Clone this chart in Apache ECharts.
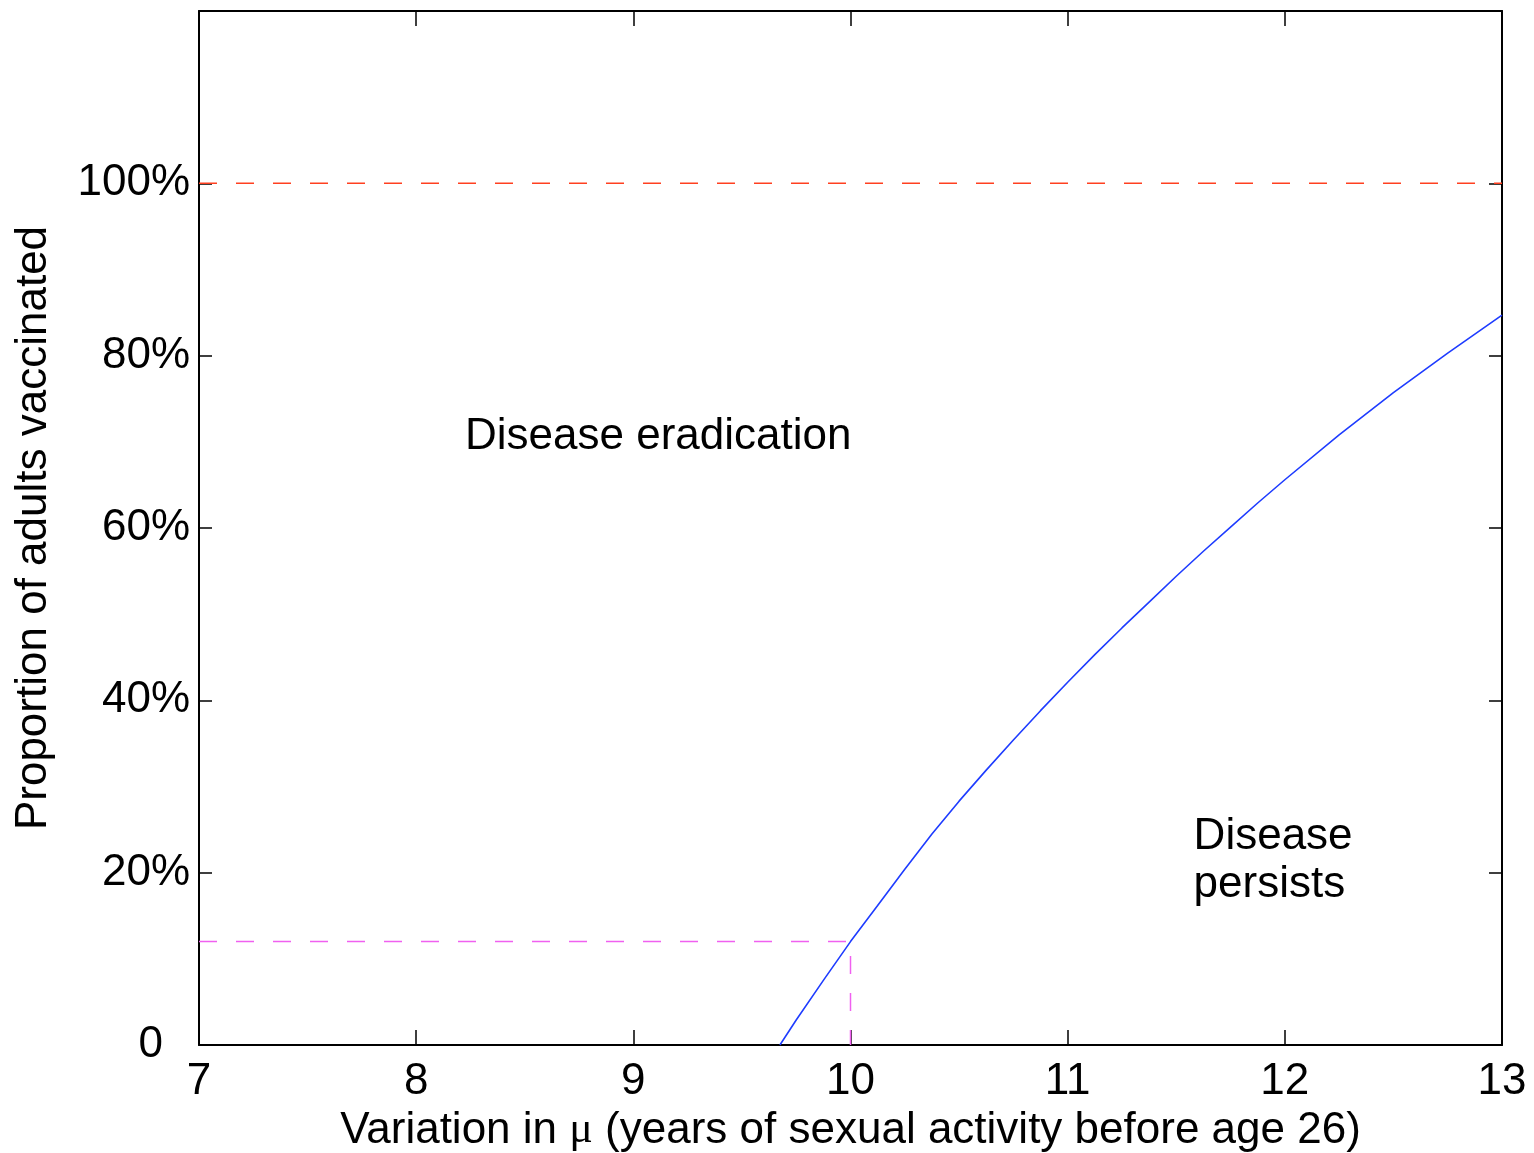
<!DOCTYPE html>
<html>
<head>
<meta charset="UTF-8">
<title></title>
<style>
  html, body { margin: 0; padding: 0; background: #fff; }
</style>
</head>
<body>
<div id="main" style="width:1534px;height:1153px"></div>
<script src="https://cdn.jsdelivr.net/npm/echarts@6/dist/echarts.min.js"></script>
<script type="text/javascript">
	// threshold curve: mu (years) vs. proportion vaccinated (%)
	var muValues = [9.675, 9.75, 9.875, 10, 10.125, 10.25, 10.375, 10.5, 10.625, 10.75, 10.875, 11, 11.125, 11.25, 11.375, 11.5, 11.625, 11.75, 11.875, 12, 12.25, 12.5, 12.75, 13];
	var vaccinated = [0, 2.9, 7.5, 12.0, 16.2, 20.4, 24.5, 28.3, 31.9, 35.4, 38.8, 42.1, 45.3, 48.4, 51.4, 54.4, 57.3, 60.1, 62.9, 65.6, 70.8, 75.7, 80.3, 84.7];

	var xTicks = [7, 8, 9, 10, 11, 12, 13];
	var yTicks = [0, 20, 40, 60, 80, 100];

	// reference lines
	var fullCoverage = 100;
	var baseMu = 10;
	var baseVaccinated = 12;

	var FONT = '"Liberation Sans", Arial, sans-serif';

	var curve = [];
	for (var i = 0; i < muValues.length; i++) {
		curve.push([muValues[i], vaccinated[i]]);
	}

	var myCharts = echarts.init(document.querySelector('#main'));

	option = {
		animation: false,
		backgroundColor: '#fff',
		grid: { left: 199, right: 32, top: 11, bottom: 108, containLabel: false, outerBoundsMode: 'none' },
		xAxis: [{
			type: 'value',
			min: 7, max: 13, interval: 1,
			position: 'bottom',
			axisLine: { show: true, lineStyle: { color: '#000', width: 2 } },
			axisTick: { show: true, inside: true, length: 15, lineStyle: { color: '#000', width: 1.5 } },
			splitLine: { show: false },
			axisLabel: { color: '#000', fontFamily: FONT, fontSize: 44, margin: 15 },
			name: 'Variation in {mu|μ} (years of sexual activity before age 26)',
			nameLocation: 'middle',
			nameGap: 60,
			nameTextStyle: {
				color: '#000', fontFamily: FONT, fontSize: 44,
				rich: { mu: { fontFamily: '"Liberation Serif", "DejaVu Serif", serif', fontSize: 44, color: '#000' } }
			}
		}, {
			type: 'value',
			min: 7, max: 13, interval: 1,
			position: 'top',
			axisLine: { show: true, onZero: false, lineStyle: { color: '#000', width: 2 } },
			axisTick: { show: true, inside: true, length: 15, lineStyle: { color: '#000', width: 1.5 } },
			splitLine: { show: false },
			axisLabel: { show: false }
		}],
		yAxis: [{
			type: 'value',
			min: 0, max: 120, interval: 20,
			position: 'left',
			axisLine: { show: true, lineStyle: { color: '#000', width: 2 } },
			axisTick: { show: true, inside: true, length: 13, lineStyle: { color: '#000', width: 1.5 } },
			splitLine: { show: false },
			axisLabel: {
				color: '#000', fontFamily: FONT, fontSize: 44, margin: 9,
				formatter: function(v) {
					if (yTicks.indexOf(v) < 0) return '';
					return v === 0 ? '0{pad|}' : v + '%';
				},
				rich: { pad: { width: 27 } }
			},
			name: 'Proportion of adults vaccinated',
			nameLocation: 'middle',
			nameGap: 143,
			nameTextStyle: { color: '#000', fontFamily: FONT, fontSize: 44 }
		}, {
			type: 'value',
			min: 0, max: 120, interval: 20,
			position: 'right',
			axisLine: { show: true, onZero: false, lineStyle: { color: '#000', width: 2 } },
			axisTick: { show: true, inside: true, length: 13, lineStyle: { color: '#000', width: 1.5 } },
			splitLine: { show: false },
			axisLabel: { show: false }
		}],
		series: [{
			name: 'full coverage',
			type: 'line',
			symbol: 'none',
			lineStyle: { color: '#ff4020', width: 1.5, type: [18, 19] },
			data: [[xTicks[0], fullCoverage], [xTicks[xTicks.length - 1], fullCoverage]],
			z: 3
		}, {
			name: 'baseline',
			type: 'line',
			symbol: 'none',
			lineStyle: { color: '#f060f0', width: 1.5, type: [18, 19] },
			data: [[xTicks[0], baseVaccinated], [baseMu, baseVaccinated], [baseMu, 0]],
			z: 3
		}, {
			name: 'threshold',
			type: 'line',
			symbol: 'none',
			lineStyle: { color: '#1e3cff', width: 1.6 },
			data: curve,
			z: 4
		}]
	};

	myCharts.setOption(option);

	// region annotations, placed in data coordinates
	var p1 = myCharts.convertToPixel({ xAxisIndex: 0, yAxisIndex: 0 }, [8.225, 70.6]);
	var p2 = myCharts.convertToPixel({ xAxisIndex: 0, yAxisIndex: 0 }, [11.58, 21.4]);
	myCharts.setOption({
		graphic: [{
			type: 'text',
			x: p1[0], y: p1[1],
			style: { text: 'Disease eradication', font: '44px ' + FONT, fill: '#000', textAlign: 'left', textVerticalAlign: 'middle' }
		}, {
			type: 'text',
			x: p2[0], y: p2[1],
			style: { text: 'Disease\npersists', font: '44px ' + FONT, lineHeight: 48, fill: '#000', textAlign: 'left', textVerticalAlign: 'middle' }
		}]
	});
</script>
</body>
</html>
